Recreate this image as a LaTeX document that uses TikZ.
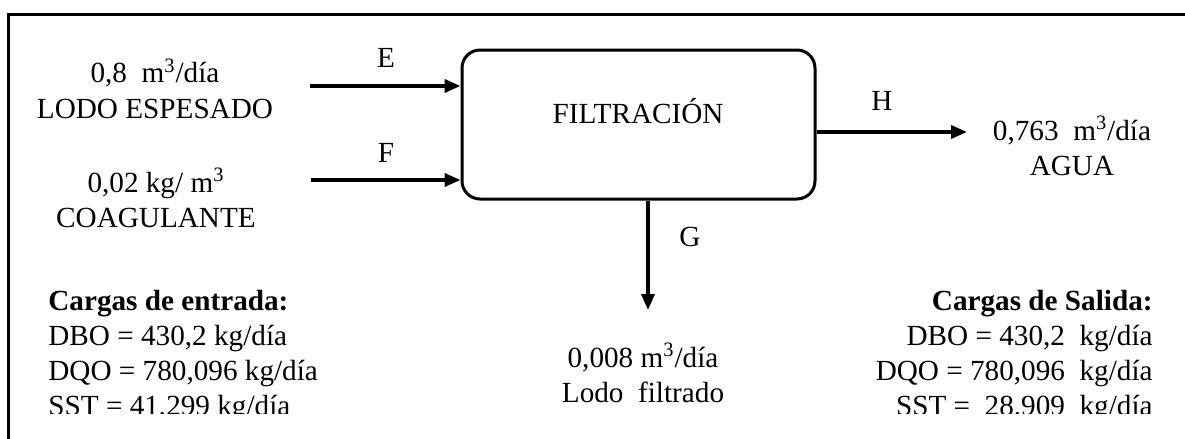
\documentclass[tikz,border=0pt]{standalone}
\usepackage{fontspec}
\setmainfont{Liberation Serif}
\usetikzlibrary{arrows.meta,positioning}
\tikzset{
  txt/.style={inner sep=0pt,font=\fontsize{14.6}{17.5}\selectfont},
  blk/.style={txt,align=center,anchor=base},
  procbox/.style={rectangle,rounded corners=9pt,draw,line width=1.5pt,minimum width=176.5pt,minimum height=74.5pt},
  arr/.style={-{Triangle[length=8pt,width=6.5pt]},line width=1.8pt}
}

\begin{document}
\begin{tikzpicture}[x=0.5pt,y=-0.5pt]
  \useasboundingbox (0,0) rectangle (1185,439);
  % marco
  \draw[line width=1.5pt] (8.5,439) -- (8.5,14.5) -- (1185,14.5);
  % filtro
  \node[procbox] (filt) at (638.5,124.5) {};
  \node[txt,anchor=base] (filtlbl) at (638,123) {FILTRACIÓN};
  % entradas (base = ultima linea)
  \node[blk] (lodo) at (155,118) {0,8~ m\textsuperscript{3}/día\\LODO ESPESADO};
  \node[blk] (coag) at (156,227) {0,02 kg/ m\textsuperscript{3}\\COAGULANTE};
  \coordinate (inE) at (310,86);
  \coordinate (inF) at (311,180);
  \foreach \c in {inE,inF} \draw[arr] (\c) -- (\c -| filt.west);
  \node[txt,anchor=base] (labE) at (386,68) {E};
  \node[txt,anchor=base] (labF) at (386,162) {F};
  % salidas
  \coordinate (outH) at (967,132);
  \draw[arr] (filt.east |- outH) -- (outH);
  \node[txt,anchor=base] (labH) at (882,110) {H};
  \node[blk] (agua) at (1072,175) {0,763~ m\textsuperscript{3}/día\\AGUA};
  \coordinate (outG) at (648,310);
  \draw[arr] (outG |- filt.south) -- (outG);
  \node[txt,anchor=base] (labG) at (690,246) {G};
  % cargas
  \begin{scope}
    \clip (0,0) rectangle (1185,413);
    \node[blk] (lodof) at (643,402) {0,008 m\textsuperscript{3}/día\\Lodo~ filtrado};
    \node[txt,align=left,anchor=base west] (cargin) at (48,415)
      {\textbf{Cargas de entrada:}\\DBO = 430,2 kg/día\\DQO = 780,096 kg/día\\SST = 41,299 kg/día};
    \node[txt,align=right,anchor=base east] (cargout) at (1153,415)
      {\textbf{Cargas de Salida:}\\DBO = 430,2~ kg/día\\DQO = 780,096~ kg/día\\SST =~ 28.909~ kg/día};
  \end{scope}
\end{tikzpicture}
\end{document}
